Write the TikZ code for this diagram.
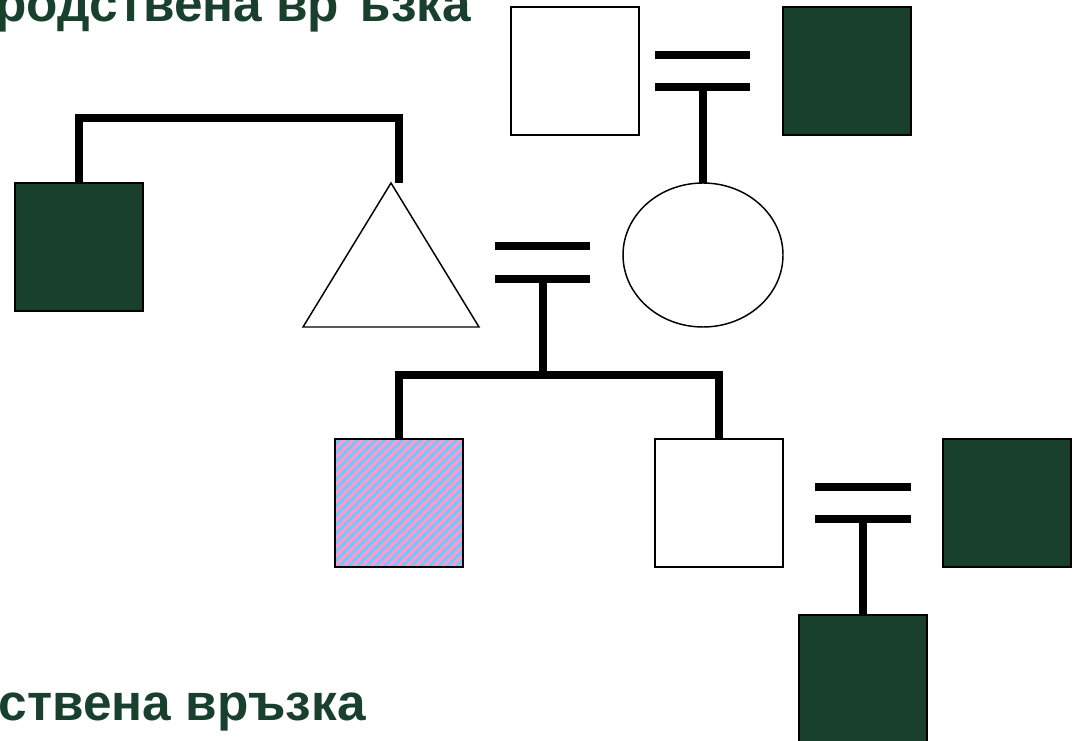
\documentclass[tikz,border=0pt]{standalone}
\usepackage{fontspec}
\setmainfont{Liberation Sans}
\usetikzlibrary{shapes.geometric}
\definecolor{dkgreen}{RGB}{24,64,45}
\definecolor{hpink}{RGB}{255,153,204}
\definecolor{hblue}{RGB}{102,204,255}
\begin{document}
\begin{tikzpicture}[x=0.75pt,y=-0.75pt,
  person/.style={draw=black, line width=1.1pt, minimum size=96pt, inner sep=0pt, outer sep=0pt},
  affected/.style={person, fill=dkgreen},
  healthy/.style={person, fill=white},
  link/.style={line width=6pt, line cap=butt},
  caption/.style={font=\bfseries\fontsize{38.5}{46}\selectfont, text=dkgreen, inner sep=0pt}]
\useasboundingbox (0,0) rectangle (1080,741);
\clip (0,0) rectangle (1080,741);
% texts
\node[caption, anchor=base east] (t1) at (471,22) {родствена вр ъзка};
\node[caption, anchor=base east] (t2) at (366,720) {ствена връзка};
% persons
\node[healthy] (gf) at (575,71) {};
\node[affected] (gm) at (847,71) {};
\node[affected] (ls) at (79,247) {};
\node[draw=black, line width=1.1pt, ellipse, minimum width=120pt, minimum height=108pt, inner sep=0pt, outer sep=0pt] (mo) at (703,255) {};
\draw[line width=1.1pt, fill=white] (391,183) -- (479,327) -- (303,327) -- cycle;
\coordinate (fa) at (399,183);
\node[person] (hs) at (399,503) {};
\node[healthy] (ws) at (719,503) {};
\node[affected] (rs) at (1007,503) {};
\node[affected] (bs) at (863,679) {};
% hatch of hs
\begin{scope}
  \clip (hs.south west) rectangle (hs.north east);
  \fill[hblue] (hs.south west) rectangle (hs.north east);
  \foreach \k in {0,9,...,279} {
    \draw[hpink, line width=2.4pt] ({200+\k},575) -- ({344+\k},431);
  }
\end{scope}
\node[person] at (hs) {};
% marriage lines top
\coordinate (m1a) at (655,55); \coordinate (m1b) at (750,55);
\coordinate (m1c) at (655,87); \coordinate (m1d) at (750,87);
\coordinate (m1) at (703,87);
\draw[link] (m1a) -- (m1b);
\draw[link] (m1c) -- (m1d);
\draw[link] (m1) -- (mo.north);
% left connector
\coordinate (lc) at (399,118);
\draw[link] (ls.north) |- (lc) -- (fa);
% marriage lines middle
\coordinate (m2a) at (495,246); \coordinate (m2b) at (590,246);
\coordinate (m2c) at (495,279); \coordinate (m2d) at (590,279);
\coordinate (m2) at (543,279);
\coordinate (sib) at (543,375);
\draw[link] (m2a) -- (m2b);
\draw[link] (m2c) -- (m2d);
\draw[link] (m2) -- (sib);
\draw[link] (hs.north) |- (sib) -| (ws.north);
% marriage lines right
\coordinate (m3a) at (815,487); \coordinate (m3b) at (911,487);
\coordinate (m3c) at (815,519); \coordinate (m3d) at (911,519);
\coordinate (m3) at (863,519);
\draw[link] (m3a) -- (m3b);
\draw[link] (m3c) -- (m3d);
\draw[link] (m3) -- (bs.north);
\end{tikzpicture}
\end{document}
